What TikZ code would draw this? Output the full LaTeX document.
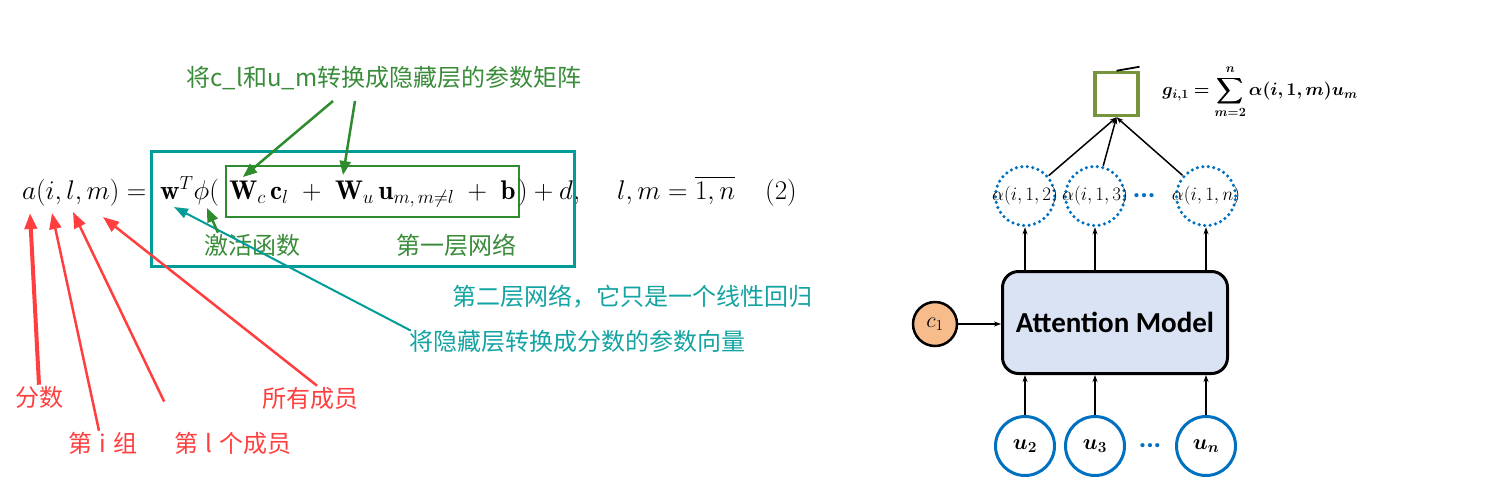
\RequirePackage{fix-cm}
\documentclass[tikz,border=0pt]{standalone}
\usepackage{amsmath, amssymb}
\usepackage{bm}
\usepackage{fontspec}
\newfontfamily\cjk{Noto Sans CJK SC}
\newfontfamily\carlito{Carlito}
\usetikzlibrary{arrows.meta, positioning}
\definecolor{notered}{HTML}{FF3F3F}
\definecolor{tealbox}{HTML}{009C9A}
\definecolor{tealnote}{HTML}{14A3A3}
\definecolor{greennote}{HTML}{3A8C3A}
\definecolor{greenarrow}{HTML}{2E8B2E}
\definecolor{nodeblue}{HTML}{0070C0}
\definecolor{boxblue}{HTML}{DAE3F3}
\definecolor{peach}{HTML}{F6BC8C}
\definecolor{olive}{HTML}{77933C}

\begin{document}
\begin{tikzpicture}[x=1pt, y=-1pt,
  note/.style={font=\cjk\fontsize{24}{28}\selectfont, inner sep=1pt},
  fml/.style={font=\fontsize{27}{31}\selectfont, anchor=base west, inner sep=0pt},
  redarr/.style={notered, line width=2.5pt, -{Triangle[length=16pt, width=12pt]}},
  greenarr/.style={greenarrow, line width=2.5pt, -{Triangle[length=14pt, width=11pt]}},
  tealarr/.style={tealbox, line width=2pt, -{Triangle[length=14pt, width=10pt]}},
  blk/.style={line width=1.5pt, -{Stealth[length=7pt, width=5pt]}},
  ucirc/.style={circle, draw=nodeblue, line width=3pt, fill=white, minimum size=59pt,
    inner sep=0pt, font=\fontsize{22}{26}\selectfont},
  dotcirc/.style={circle, draw=nodeblue, line width=3.5pt, dash pattern=on 0pt off 5.5pt,
    line cap=round, minimum size=59pt, inner sep=0pt},
  bluedots/.style={nodeblue, font=\carlito\bfseries\fontsize{28}{30}\selectfont}]
  \useasboundingbox (0,0) rectangle (1512,488);

  % equation (2)
  \node (lhs) [fml] at (22,199) {$a(i,l,m) =$};
  \node (wphi) [fml] at (160,199) {$\mathbf{w}^T\phi($};
  \node (lin) [draw=greenarrow, line width=1.2pt, anchor=base, minimum width=293pt,
    inner xsep=0pt, inner ysep=0pt, text height=33pt, text depth=18pt,
    font=\fontsize{27}{31}\selectfont] at (372.5,199)
    {$\mathbf{W}_c\,\mathbf{c}_l \;+\; \mathbf{W}_u\,\mathbf{u}_{m,\,m\neq l} \;+\; \mathbf{b}$};
  \node (close) [fml] at (518,199) {$) + d,$};
  \node (range) [fml] at (617,199) {$l,m = \overline{1,n}$};
  \node (eqno) [fml] at (765,199) {$(2)$};
  \node (net2) [draw=tealbox, line width=3pt, minimum width=423pt, minimum height=115pt,
    inner sep=0pt] at (363,209) {};

  \node (conv) [note, greennote] at (384,78) {将c\_l和u\_m转换成隐藏层的参数矩阵};
  \node (act) [note, greennote] at (252,245) {激活函数};
  \node (layer1) [note, greennote] at (456,245) {第一层网络};
  \node (layer2) [note, tealnote] at (632,297) {第二层网络，它只是一个线性回归};
  \node (hidvec) [note, tealnote] at (577,341) {将隐藏层转换成分数的参数向量};
  \node (score) [note, notered] at (39,397) {分数};
  \node (grp) [note, notered] at (103,443) {第\hspace{0.3em}i\hspace{0.3em}组};
  \node (mem) [note, notered] at (233,443) {第\hspace{0.3em}l\hspace{0.3em}个成员};
  \node (all) [note, notered] at (310,398) {所有成员};

  \coordinate (pa) at (30,213);
  \coordinate (pi) at (52,213);
  \coordinate (pl) at (73,212);
  \coordinate (pm) at (103,217);
  \coordinate (pw) at (174,207);
  \coordinate (pphi) at (207,208);
  \coordinate (pWc) at (243,177);
  \coordinate (pWu) at (343,175);

  \draw[redarr, line width=4pt] (score.north) -- (pa);
  \draw[redarr] ([xshift=-4pt]grp.north) -- (pi);
  \draw[redarr] ([shift={(-9,-29)}]mem.north west) -- (pl);
  \draw[redarr] ([xshift=7pt]all.north) -- (pm);
  \draw[tealarr] ([shift={(3,2)}]hidvec.north west) -- (pw);
  \draw[greenarr] ([shift={(-51,10)}]conv.south) -- (pWc);
  \draw[greenarr] ([shift={(-29,10)}]conv.south) -- (pWu);
  \draw[greenarr] ([xshift=-34pt]act.north) -- (pphi);

  % attention model
  \node (att) [draw, line width=3pt, rounded corners=16pt, fill=boxblue, minimum width=225pt,
    minimum height=102pt, font=\carlito\bfseries\fontsize{29}{34}\selectfont]
    at (1115,322.5) {Attention Model};
  \node (c1) [circle, draw, line width=2.5pt, fill=peach, minimum size=44pt, inner sep=0pt,
    font=\fontsize{22}{26}\selectfont] at (935,324) {$c_1$};
  \draw[blk] (c1) -- (c1 -| att.west);

  \foreach \n/\x in {2/1025, 3/1095, n/1206} {
    \node (u\n) [ucirc] at (\x,446) {$\bm{u_{\n}}$};
    \node (a\n) [dotcirc, label={[font=\fontsize{19}{22}\selectfont]center:$\alpha(i,1,\n)$}]
      at (\x,196) {};
    \draw[blk] (u\n) -- (u\n |- att.south);
    \draw[blk] (a\n |- att.north) -- (a\n);
  }
  \node (udots) [bluedots] at (1150,446) {...};
  \node (adots) [bluedots] at (1144,196) {...};

  \node (sq) [draw=olive, line width=3.5pt, minimum size=43pt, inner sep=0pt] at (1116.5,94) {};
  \draw[line width=1.8pt] (sq.north) -- ++(23,-4);
  \foreach \n in {2,3,n}
    \draw[blk] (a\n) -- (sq.south);
  \node (gsum) [font=\fontsize{18}{21}\selectfont] at (1260,92)
    {$\displaystyle \bm{g_{i,1} = \sum_{m=2}^{n}\alpha(i,1,m)u_m}$};
\end{tikzpicture}
\end{document}
